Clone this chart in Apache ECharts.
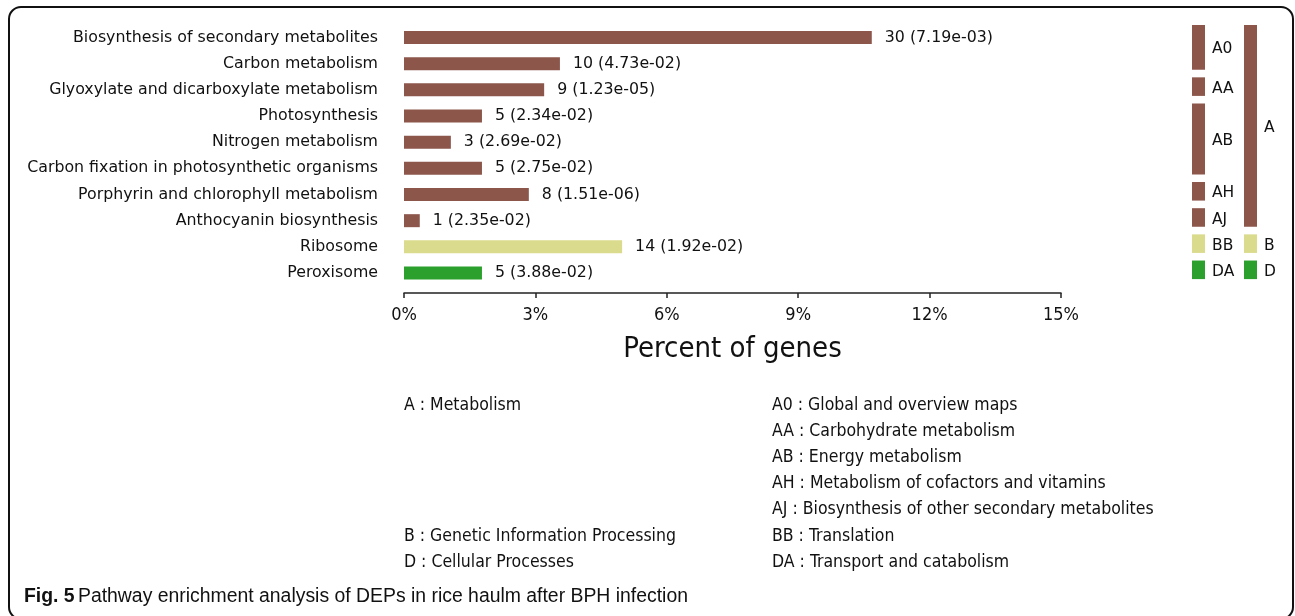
<!DOCTYPE html>
<html>
<head>
<meta charset="utf-8">
<script src="https://cdn.jsdelivr.net/npm/echarts@6/dist/echarts.min.js"></script>
<style>
html,body{margin:0;padding:0;background:#fff;}
#chart{width:1295px;height:616px;}
</style>
</head>
<body>
<div id="chart"></div>
<script>
// ---- data ----
var categories = [
  'Biosynthesis of secondary metabolites',
  'Carbon metabolism',
  'Glyoxylate and dicarboxylate metabolism',
  'Photosynthesis',
  'Nitrogen metabolism',
  'Carbon fixation in photosynthetic organisms',
  'Porphyrin and chlorophyll metabolism',
  'Anthocyanin biosynthesis',
  'Ribosome',
  'Peroxisome'
];
var percentValues = [10.68, 3.56, 3.20, 1.78, 1.07, 1.78, 2.85, 0.36, 4.98, 1.78];
var geneCounts = [30, 10, 9, 5, 3, 5, 8, 1, 14, 5];
var pValues = ['7.19e-03', '4.73e-02', '1.23e-05', '2.34e-02', '2.69e-02', '2.75e-02', '1.51e-06', '2.35e-02', '1.92e-02', '3.88e-02'];
var level1Class = ['A', 'A', 'A', 'A', 'A', 'A', 'A', 'A', 'B', 'D'];
var xTicks = [0, 3, 6, 9, 12, 15];

// class groups: [column, firstRow, lastRow, code]
var classGroups = [
  [0, 0, 1, 'A0'],
  [0, 2, 2, 'AA'],
  [0, 3, 5, 'AB'],
  [0, 6, 6, 'AH'],
  [0, 7, 7, 'AJ'],
  [0, 8, 8, 'BB'],
  [0, 9, 9, 'DA'],
  [1, 0, 7, 'A'],
  [1, 8, 8, 'B'],
  [1, 9, 9, 'D']
];
var legendLeft = [[0, 'A : Metabolism'], [5, 'B : Genetic Information Processing'], [6, 'D : Cellular Processes']];
var legendRight = [
  [0, 'A0 : Global and overview maps'],
  [1, 'AA : Carbohydrate metabolism'],
  [2, 'AB : Energy metabolism'],
  [3, 'AH : Metabolism of cofactors and vitamins'],
  [4, 'AJ : Biosynthesis of other secondary metabolites'],
  [5, 'BB : Translation'],
  [6, 'DA : Transport and catabolism']
];
var captionBold = 'Fig. 5';
var captionText = 'Pathway enrichment analysis of DEPs in rice haulm after BPH infection';

// ---- styles ----
var classColors = { A: '#8c564b', B: '#dbdb8d', D: '#2ca02c' };
var condFont = '"DejaVu Sans Condensed", "Liberation Sans Narrow", sans-serif';
var mainFont = '"DejaVu Sans", sans-serif';
var capFont = '"Liberation Sans Narrow", sans-serif';

var chart = echarts.init(document.getElementById('chart'));

var barData = percentValues.map(function (v, i) {
  return { value: v, itemStyle: { color: classColors[level1Class[i]] } };
});

var graphics = [
  { type: 'rect', shape: { x: 9, y: 7, width: 1284, height: 612, r: 12 },
    style: { fill: 'none', stroke: '#111', lineWidth: 2 }, silent: true }
];
legendLeft.forEach(function (d) {
  graphics.push({ type: 'text', left: 404, top: 396 + d[0] * 26.2,
    style: { text: d[1], font: '17.5px ' + condFont, fill: '#111' } });
});
legendRight.forEach(function (d) {
  graphics.push({ type: 'text', left: 772, top: 396 + d[0] * 26.2,
    style: { text: d[1], font: '17.5px ' + condFont, fill: '#111' } });
});
graphics.push({ type: 'text', left: 24, top: 587,
  style: { rich: { b: { fontWeight: 'bold', fontSize: 19.4, fontFamily: capFont, fill: '#111' },
                   n: { fontSize: 19.4, fontFamily: capFont, fill: '#111' } },
           text: '{b|' + captionBold + '} {n|' + captionText + '}' } });

var option = {
  animation: false,
  backgroundColor: '#fff',
  grid: [
    { left: 404, width: 657, top: 24.4, height: 261.7 },
    { left: 1192, width: 52, top: 24.4, height: 261.7 }
  ],
  xAxis: [
    { gridIndex: 0, type: 'value', min: 0, max: 15, interval: 3, offset: 7,
      axisLine: { show: true, lineStyle: { color: '#222', width: 1.5 } },
      axisTick: { show: true, length: 5, lineStyle: { color: '#222', width: 1.5 } },
      splitLine: { show: false },
      axisLabel: { formatter: '{value}%', fontFamily: condFont, fontSize: 18, color: '#111', margin: 13 },
      name: 'Percent of genes', nameLocation: 'middle', nameGap: 42,
      nameTextStyle: { fontFamily: condFont, fontSize: 29, color: '#111' } },
    { gridIndex: 1, type: 'value', min: 0, max: 1, show: false }
  ],
  yAxis: [
    { gridIndex: 0, type: 'category', inverse: true, data: categories,
      axisLine: { show: false }, axisTick: { show: false },
      axisLabel: { fontFamily: mainFont, fontSize: 15.8, color: '#111', margin: 26, padding: [4, 0, 0, 0] } },
    { gridIndex: 1, type: 'category', inverse: true, data: categories, show: false }
  ],
  series: [
    { type: 'bar', xAxisIndex: 0, yAxisIndex: 0, data: barData, barWidth: 13,
      label: { show: true, position: 'right', distance: 13, fontFamily: mainFont, fontSize: 15.8, color: '#111',
        padding: [4, 0, 0, 0],
        formatter: function (p) { return geneCounts[p.dataIndex] + ' (' + pValues[p.dataIndex] + ')'; } } },
    { type: 'custom', xAxisIndex: 1, yAxisIndex: 1, data: classGroups,
      encode: { x: 0, y: [1, 2] },
      renderItem: function (params, api) {
        var col = api.value(0), r0 = api.value(1), r1 = api.value(2);
        var code = classGroups[params.dataIndex][3];
        var band = api.size([0, 1])[1];
        var p0 = api.coord([col, r0]);
        var p1 = api.coord([col, r1]);
        var top = p0[1] - band / 2 + 0.6;
        var bottom = p1[1] + band / 2 - 7;
        var color = classColors[code.charAt(0)];
        return {
          type: 'group',
          children: [
            { type: 'rect', shape: { x: p0[0], y: top, width: 13, height: bottom - top }, style: { fill: color } },
            { type: 'text', x: p0[0] + 20, y: (top + bottom) / 2 + 2,
              style: { text: code, font: '15.5px ' + mainFont, fill: '#111', verticalAlign: 'middle', align: 'left' } }
          ]
        };
      } }
  ],
  graphic: graphics
};
chart.setOption(option);
</script>
</body>
</html>
